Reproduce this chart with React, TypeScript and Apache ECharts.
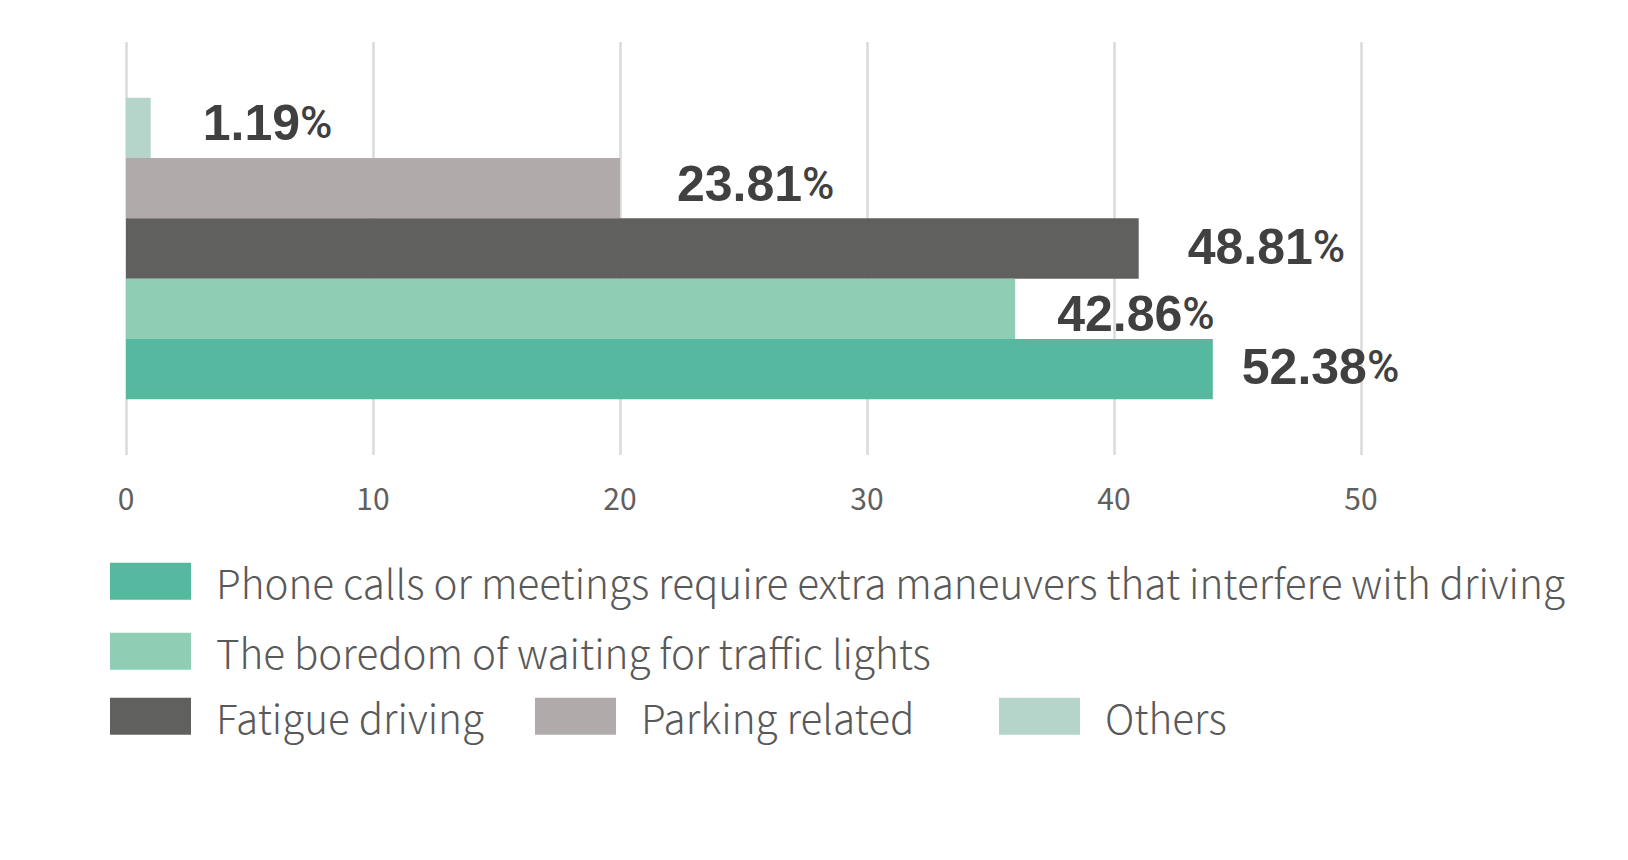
import React, { useEffect, useRef } from "react";
import * as echarts from "echarts";

const seriesNames = [
  "Phone calls or meetings require extra maneuvers that interfere with driving",
  "The boredom of waiting for traffic lights",
  "Fatigue driving",
  "Parking related",
  "Others",
];
const counts = [44, 36, 41, 20, 1];
const percentLabels = ["52.38", "42.86", "48.81", "23.81", "1.19"];
const colors = ["#55b89f", "#8fcdb5", "#60605e", "#b0aaab", "#b5d5ca"];
const xTicks = [0, 10, 20, 30, 40, 50];
const labelOffsets = [
  [29, -2],
  [42, 5],
  [49, -2],
  [57, -4],
  [52, -5],
];
const legendPos = [
  { left: 110, top: 561 },
  { left: 110, top: 631 },
  { left: 110, top: 696 },
  { left: 535, top: 696 },
  { left: 999, top: 696 },
];

export default function App() {
  const ref = useRef<HTMLDivElement>(null);
  useEffect(() => {
    document.body.style.margin = "0";
    const chart = echarts.init(ref.current!, null, { renderer: "svg" });
    // ECharts puts the first series at the top of a horizontal band,
    // so feed the series in reverse to put the first one at the bottom.
    const order = seriesNames.map((_, i) => seriesNames.length - 1 - i);
    const option: any = {
      animation: false,
      backgroundColor: "#ffffff",
      grid: { left: 126, right: 267, top: 42, bottom: 405, containLabel: false },
      xAxis: {
        type: "value",
        min: xTicks[0],
        max: xTicks[xTicks.length - 1],
        interval: 10,
        axisLine: { show: false },
        axisTick: { show: false },
        splitLine: { show: true, lineStyle: { color: "#dadada", width: 2.5 } },
        axisLabel: {
          fontSize: 30,
          color: "#606060",
          margin: 27,
          fontFamily: "Noto Sans CJK SC",
        },
      },
      yAxis: {
        type: "category",
        data: [""],
        axisLine: { show: false },
        axisTick: { show: false },
        axisLabel: { show: false },
        splitLine: { show: false },
      },
      legend: seriesNames.map((n, i) => ({
        data: [n],
        left: legendPos[i].left,
        top: legendPos[i].top,
        padding: 0,
        itemWidth: 81,
        itemHeight: 37,
        icon: "rect",
        selectedMode: false,
        textStyle: {
          fontSize: 40.4,
          color: "#595959",
          fontFamily: "'Noto Sans CJK SC Light', 'Noto Sans CJK SC'",
          fontWeight: 300,
          padding: [0, 0, 0, 20],
        },
      })),
      series: order.map((i) => ({
        type: "bar",
        name: seriesNames[i],
        data: [counts[i]],
        barGap: "0%",
        barCategoryGap: "27%",
        itemStyle: { color: colors[i] },
        label: {
          show: true,
          position: "right",
          distance: 0,
          offset: labelOffsets[i],
          formatter: () => `{n|${percentLabels[i]}}{p|%}`,
          rich: {
            n: {
              fontSize: 50,
              fontWeight: "bold",
              color: "#404040",
              fontFamily: "Liberation Sans",
            },
            p: {
              fontSize: 44,
              fontWeight: 500,
              color: "#404040",
              fontFamily: "Roboto",
            },
          },
        },
      })),
    };
    chart.setOption(option);
    return () => chart.dispose();
  }, []);
  return <div ref={ref} style={{ width: 1628, height: 860 }} />;
}
